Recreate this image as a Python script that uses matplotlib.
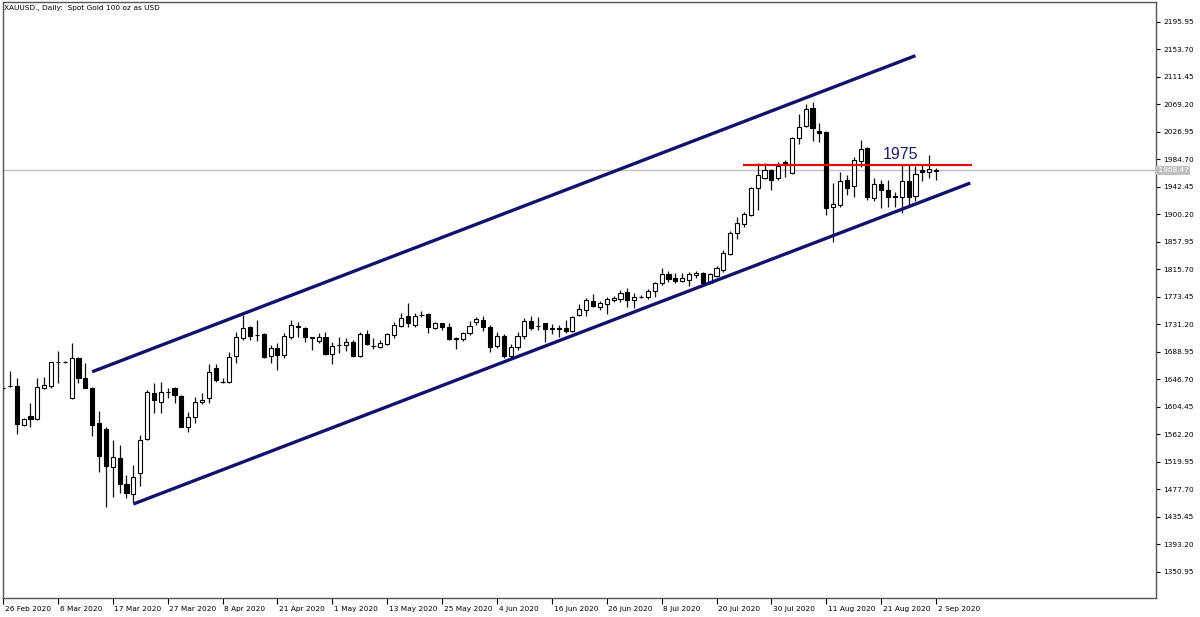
import matplotlib
matplotlib.use("Agg")
import matplotlib.pyplot as plt
from matplotlib.transforms import ScaledTranslation, blended_transform_factory
import numpy as np

# ---------------- data (XAUUSD daily) ----------------
opens = [1633.0, 1637.0, 1636.7, 1576.8, 1590.6, 1585.5, 1633.2, 1636.7, 1673.0, 1673.5,
         1617.8, 1679.3, 1648.5, 1633.2, 1579.4, 1570.2, 1511.8, 1526.6, 1486.2, 1470.2,
         1503.3, 1554.8, 1625.5, 1612.6, 1628.0, 1633.2, 1621.3, 1574.1, 1588.6, 1611.7,
         1617.8, 1663.7, 1643.5, 1643.3, 1682.6, 1710.0, 1726.9, 1715.0, 1716.1, 1682.1,
         1694.6, 1684.3, 1712.4, 1728.9, 1725.3, 1711.3, 1706.3, 1712.4, 1685.4, 1699.5,
         1699.7, 1704.7, 1682.8, 1716.1, 1698.5, 1696.1, 1701.2, 1715.0, 1728.9, 1744.2,
         1730.4, 1745.5, 1746.8, 1725.3, 1733.0, 1726.9, 1709.5, 1708.4, 1717.6, 1734.3,
         1738.1, 1726.9, 1698.1, 1713.5, 1682.1, 1697.1, 1713.5, 1736.5, 1729.0, 1733.0,
         1725.0, 1725.5, 1725.3, 1721.6, 1745.8, 1753.4, 1767.7, 1758.5, 1762.7, 1768.8,
         1769.9, 1781.6, 1768.8, 1773.5, 1773.0, 1783.1, 1794.5, 1808.3, 1802.1, 1798.4,
         1799.5, 1807.2, 1810.7, 1795.4, 1806.1, 1815.0, 1839.5, 1871.8, 1885.6, 1899.5,
         1940.9, 1956.3, 1968.5, 1956.3, 1980.8, 1963.9, 2017.7, 2036.2, 2063.8, 2028.5,
         2026.9, 1911.7, 1914.8, 1953.2, 1944.0, 1982.4, 2002.4, 1925.6, 1947.1, 1937.8,
         1928.6, 1927.1, 1951.7, 1928.6, 1968.5, 1965.5, 1967.0]
highs = [1636.0, 1659.0, 1648.5, 1587.1, 1610.1, 1648.5, 1651.0, 1674.0, 1690.9, 1675.6,
         1702.3, 1680.8, 1671.6, 1634.7, 1598.3, 1574.1, 1553.7, 1546.1, 1499.8, 1515.0,
         1561.4, 1630.6, 1640.8, 1643.3, 1633.2, 1634.7, 1622.9, 1597.2, 1620.3, 1626.4,
         1670.0, 1670.5, 1648.5, 1689.4, 1720.0, 1745.8, 1728.9, 1738.1, 1717.6, 1699.7,
         1702.3, 1718.6, 1738.1, 1735.5, 1726.9, 1712.4, 1717.6, 1720.0, 1704.7, 1712.4,
         1709.9, 1707.3, 1720.0, 1722.7, 1709.9, 1707.3, 1718.6, 1735.5, 1748.4, 1764.7,
         1748.4, 1751.9, 1748.4, 1734.5, 1733.9, 1733.9, 1712.4, 1720.0, 1736.6, 1742.7,
         1744.2, 1730.4, 1720.0, 1716.6, 1700.7, 1720.0, 1740.7, 1744.2, 1742.2, 1733.9,
         1731.5, 1730.4, 1738.1, 1744.2, 1762.2, 1771.4, 1778.0, 1767.7, 1773.0, 1775.0,
         1784.2, 1787.7, 1779.1, 1776.5, 1785.2, 1797.0, 1817.5, 1813.8, 1809.8, 1809.8,
         1812.3, 1813.8, 1812.3, 1810.7, 1821.0, 1845.7, 1874.9, 1896.4, 1904.1, 1942.5,
         1979.3, 1979.3, 1970.1, 1980.8, 1983.9, 2019.0, 2054.6, 2070.0, 2073.0, 2040.8,
         2028.0, 1948.6, 1965.5, 1960.9, 1988.5, 2014.7, 2003.9, 1956.3, 1953.2, 1953.2,
         1934.8, 1976.3, 1976.3, 1974.7, 1976.3, 1991.6, 1971.6]
lows = [1631.0, 1635.0, 1563.0, 1575.6, 1574.1, 1584.5, 1631.6, 1634.1, 1641.8, 1671.6,
        1617.0, 1640.8, 1633.2, 1559.9, 1505.1, 1451.3, 1466.4, 1471.7, 1464.0, 1459.2,
        1483.1, 1553.7, 1594.8, 1594.8, 1617.8, 1611.0, 1573.2, 1566.5, 1579.4, 1609.0,
        1610.6, 1643.3, 1640.8, 1641.8, 1671.6, 1707.3, 1707.3, 1706.3, 1679.2, 1671.6,
        1661.3, 1679.2, 1708.4, 1712.4, 1704.7, 1692.0, 1702.3, 1684.3, 1670.5, 1686.9,
        1690.9, 1681.7, 1681.7, 1699.7, 1693.1, 1694.6, 1699.7, 1710.0, 1726.9, 1726.9,
        1726.9, 1742.2, 1717.6, 1723.8, 1722.7, 1707.3, 1693.1, 1706.3, 1715.0, 1730.1,
        1721.6, 1688.3, 1695.5, 1679.2, 1679.2, 1692.0, 1708.4, 1722.7, 1722.7, 1704.7,
        1716.6, 1712.4, 1718.6, 1720.0, 1744.2, 1744.2, 1758.5, 1753.4, 1746.8, 1766.2,
        1766.2, 1758.5, 1757.0, 1771.4, 1769.9, 1773.0, 1791.8, 1797.0, 1794.5, 1797.0,
        1790.3, 1802.1, 1793.4, 1793.4, 1804.6, 1811.9, 1838.0, 1862.6, 1881.0, 1897.9,
        1907.1, 1954.7, 1937.8, 1953.2, 1957.8, 1962.0, 2008.5, 2034.6, 2013.1, 2011.6,
        1899.5, 1858.0, 1911.7, 1930.2, 1927.1, 1973.2, 1922.5, 1921.0, 1910.2, 1911.7,
        1911.7, 1902.5, 1911.7, 1921.0, 1951.7, 1956.3, 1953.2]
closes = [1634.0, 1636.5, 1577.9, 1585.5, 1585.5, 1635.6, 1638.2, 1673.1, 1674.0, 1673.0,
          1679.3, 1648.5, 1634.1, 1576.8, 1529.2, 1513.8, 1528.1, 1485.7, 1471.7, 1496.6,
          1553.7, 1628.0, 1615.2, 1628.0, 1627.5, 1622.9, 1574.1, 1589.5, 1612.6, 1615.2,
          1658.7, 1645.9, 1643.0, 1680.8, 1711.4, 1725.3, 1713.5, 1715.5, 1680.8, 1694.6,
          1684.3, 1713.5, 1730.4, 1726.9, 1712.4, 1710.8, 1711.5, 1685.8, 1698.1, 1700.0,
          1704.7, 1682.8, 1716.1, 1700.7, 1698.0, 1702.3, 1716.6, 1730.4, 1740.7, 1733.0,
          1744.2, 1746.0, 1726.9, 1733.0, 1727.8, 1708.4, 1710.0, 1717.6, 1728.9, 1739.6,
          1726.9, 1697.1, 1713.5, 1682.1, 1697.1, 1713.5, 1736.5, 1725.3, 1728.5, 1723.8,
          1725.5, 1725.0, 1721.6, 1743.1, 1754.5, 1768.8, 1759.6, 1763.7, 1769.9, 1772.3,
          1779.1, 1768.8, 1773.9, 1774.0, 1783.1, 1794.5, 1808.3, 1801.1, 1798.0, 1802.1,
          1808.3, 1810.7, 1795.4, 1808.8, 1817.5, 1841.5, 1871.8, 1887.2, 1901.0, 1940.9,
          1960.9, 1968.5, 1953.2, 1974.7, 1977.8, 2017.7, 2034.6, 2062.3, 2033.1, 2025.4,
          1910.2, 1916.4, 1951.7, 1940.9, 1983.9, 2000.8, 1927.1, 1947.1, 1937.8, 1927.1,
          1927.1, 1951.7, 1927.1, 1962.4, 1965.5, 1970.1, 1968.5]

# date labels on the time axis and the bar number they sit on (1 = first bar)
xtick_labels = ["26 Feb 2020", "6 Mar 2020", "17 Mar 2020", "27 Mar 2020", "8 Apr 2020",
                "21 Apr 2020", "1 May 2020", "13 May 2020", "25 May 2020", "4 Jun 2020",
                "16 Jun 2020", "26 Jun 2020", "8 Jul 2020", "20 Jul 2020", "30 Jul 2020",
                "11 Aug 2020", "21 Aug 2020", "2 Sep 2020"]
xtick_bars = [1, 9, 17, 25, 33, 41, 49, 57, 65, 73, 81, 89, 97, 105, 113, 121, 129, 137]

ytick_labels = ["2195.95", "2153.70", "2111.45", "2069.20", "2026.95", "1984.70", "1942.45",
                "1900.20", "1857.95", "1815.70", "1773.45", "1731.20", "1688.95", "1646.70",
                "1604.45", "1562.20", "1519.95", "1477.70", "1435.45", "1393.20", "1350.95"]

# drawn objects (bar number, price)
upper_channel = [(14.0, 1658.6), (134.0, 2144.2)]
lower_channel = [(20.0, 1455.4), (142.0, 1948.6)]
resistance = [(108.8, 1976.0), (142.3, 1976.0)]
resistance_label = "1975"
last_price = 1968.47
title = "XAUUSD., Daily:  Spot Gold 100 oz as USD"

FONT = "DejaVu Sans"
FS = 5.3

# ---------------- figure ----------------
W, H = 1200, 617
fig = plt.figure(figsize=(W / 100, H / 100), dpi=100)
fig.patch.set_facecolor("white")
L, R, T, B = 3, 1156, 2, 598
ax = fig.add_axes([L / W, 1 - B / H, (R - L) / W, (B - T) / H])
ax.set_facecolor("white")

x = np.arange(1, len(opens) + 1)
o = np.array(opens); h = np.array(highs); lo = np.array(lows); c = np.array(closes)
bull = c >= o

ax.vlines(x, lo, h, color="#111111", linewidth=0.9, zorder=2)
body_bottom = np.minimum(o, c)
body_h = np.maximum(np.abs(c - o), 0.01)
ax.bar(x[bull], body_h[bull], bottom=body_bottom[bull], width=0.6,
       facecolor="white", edgecolor="black", linewidth=0.8, zorder=3)
ax.bar(x[~bull], body_h[~bull], bottom=body_bottom[~bull], width=0.6,
       facecolor="black", edgecolor="black", linewidth=0.8, zorder=3)

# axis scales: 6.87 px per bar, bar 1 at pixel ~1.4
px_per_bar = 6.87
x0_px = -5.45
ax.set_xlim((L - x0_px) / px_per_bar, (R - x0_px) / px_per_bar)
ppx = 1.5364  # price per pixel
ax.set_ylim(2229.75 - B * ppx, 2229.75 - T * ppx)

# last price line
ax.axhline(last_price, color="#c0c0c0", linewidth=1.0, zorder=1)

# channel
ax.plot([p[0] for p in upper_channel], [p[1] for p in upper_channel],
        color="#12126e", linewidth=2.4, solid_capstyle="butt", zorder=4)
ax.plot([p[0] for p in lower_channel], [p[1] for p in lower_channel],
        color="#12126e", linewidth=2.4, solid_capstyle="butt", zorder=4)
ax.plot([p[0] for p in resistance], [p[1] for p in resistance],
        color="#e01010", linewidth=1.6, solid_capstyle="butt", zorder=4)
ax.text(131.8, 1993.0, resistance_label, color="#1c1c6e", fontsize=11.5,
        family="Liberation Sans", ha="center", va="center", zorder=5)

# ticks
ax.yaxis.tick_right()
ax.set_yticks([float(t) for t in ytick_labels])
ax.set_yticklabels(ytick_labels, family=FONT)
ax.tick_params(axis="y", direction="out", length=3, width=0.8, pad=2.5,
               labelsize=FS, colors="black")
ax.set_xticks(xtick_bars)
ax.set_xticklabels(xtick_labels, family=FONT)
ax.tick_params(axis="x", direction="out", length=4, width=0.8, pad=1.5,
               labelsize=FS, colors="black")
off = ScaledTranslation(1.2 / 72, 0, fig.dpi_scale_trans)
for lab in ax.get_xticklabels():
    lab.set_horizontalalignment("left")
    lab.set_transform(lab.get_transform() + off)

for s in ax.spines.values():
    s.set_color("#555555")
    s.set_linewidth(1.0)

# last price tag on the price scale
tr = blended_transform_factory(ax.transAxes, ax.transData)
ax.text(1.0, last_price, " " + f"{last_price:.2f}", transform=tr, ha="left", va="center",
        fontsize=FS, family=FONT, color="white", clip_on=False, zorder=6,
        bbox=dict(boxstyle="square,pad=0.2", facecolor="#c0c0c0", edgecolor="none"))

fig.text(4 / W, 1 - 8 / H, title, fontsize=FS, family=FONT,
         ha="left", va="center", color="black")

fig.savefig("out.png", dpi=100, facecolor="white")
